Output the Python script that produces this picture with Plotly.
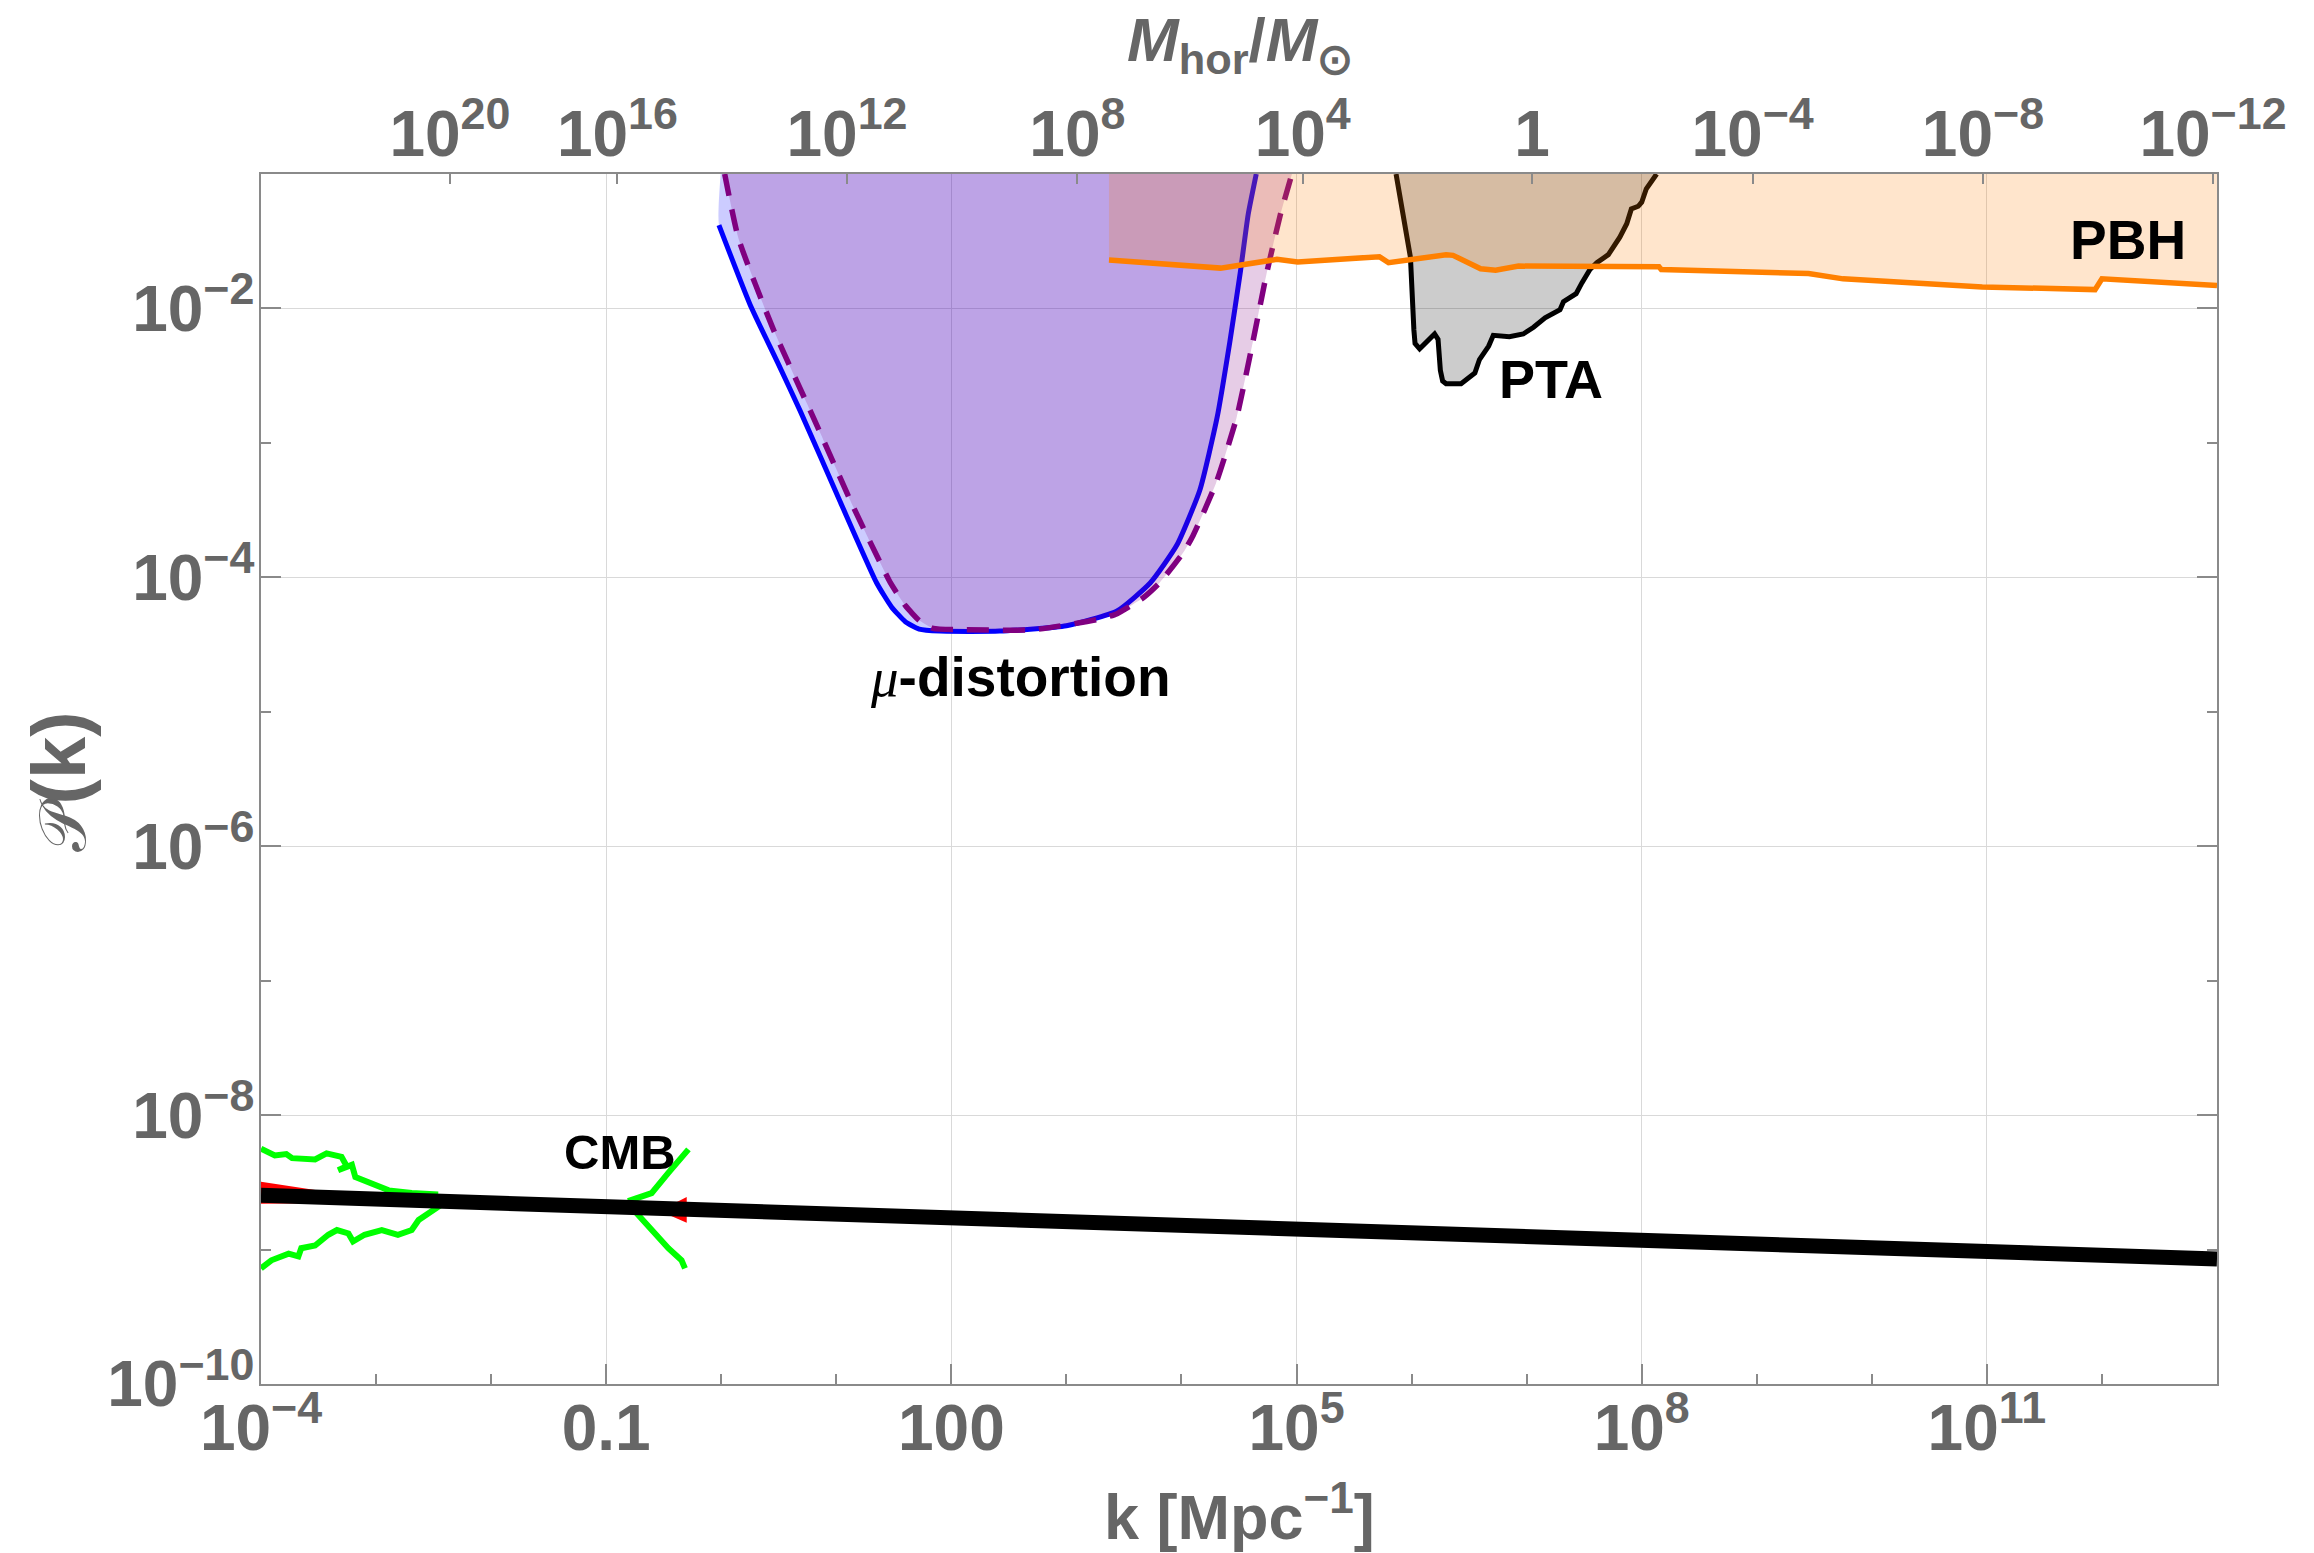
import numpy as np
import plotly.graph_objects as go

# ---------------- data (log10 values) ----------------
# nearly scale-invariant primordial spectrum (thick black line)
pk_log10_k = [-4.0, 13.0]
pk_log10_P = [-8.597, -9.07]

# mu-distortion bound, solid blue curve
mu_solid_log10_k = [-0.02, 0.25, 0.50, 0.685, 1.03, 1.35, 1.48, 1.60, 1.72, 1.90, 2.42, 3.00, 3.44,
                    3.73, 3.96, 4.16, 4.31, 4.42, 4.51, 4.58, 4.65]
mu_solid_log10_P = [-1.38, -1.97, -2.42, -2.76, -3.43, -4.04, -4.22, -4.33, -4.385, -4.40, -4.40, -4.36, -4.25,
                    -4.04, -3.76, -3.35, -2.81, -2.25, -1.74, -1.30, -1.00]

# mu-distortion bound, dashed purple curve
mu_dash_log10_k = [0.03, 0.15, 0.45, 0.80, 1.15, 1.47, 1.60, 1.72, 1.84, 2.13, 2.71, 3.29, 3.44, 3.67,
                   3.81, 4.02, 4.10, 4.30, 4.48, 4.62, 4.74, 4.86, 4.96]
mu_dash_log10_P = [-1.00, -1.48, -2.15, -2.81, -3.48, -4.04, -4.21, -4.32, -4.38, -4.39, -4.39, -4.31, -4.27, -4.15,
                   -4.04, -3.81, -3.69, -3.30, -2.81, -2.25, -1.74, -1.30, -1.00]

# PBH bound (orange)
pbh_log10_k = [3.37, 4.34, 4.83, 5.01, 5.72, 5.80, 6.30, 6.36, 6.60, 6.73, 6.93, 8.15, 8.17,
               9.45, 9.75, 10.10, 10.96, 11.94, 12.00, 13.00]
pbh_log10_P = [-1.64, -1.70, -1.635, -1.655, -1.615, -1.66, -1.60, -1.605, -1.705, -1.715, -1.685, -1.69, -1.71,
               -1.74, -1.78, -1.80, -1.84, -1.86, -1.78, -1.83]

# PTA bound (black outline, grey fill)
pta_log10_k = [5.865, 5.99, 6.02, 6.03, 6.07, 6.20, 6.23, 6.25, 6.27, 6.30, 6.43, 6.55, 6.59, 6.67,
               6.71, 6.85, 6.97, 7.06, 7.16, 7.29, 7.32, 7.43, 7.48, 7.55, 7.61, 7.71, 7.81, 7.87,
               7.91, 7.97, 8.00, 8.04, 8.13]
pta_log10_P = [-1.00, -1.62, -2.16, -2.26, -2.30, -2.19, -2.23, -2.46, -2.54, -2.56, -2.56, -2.48, -2.38, -2.28,
               -2.20, -2.21, -2.19, -2.14, -2.07, -2.01, -1.95, -1.89, -1.81, -1.71, -1.66, -1.60, -1.47, -1.37,
               -1.26, -1.24, -1.21, -1.11, -1.00]

# CMB: red constraint band
cmb_red_log10_k = [-4.0, -3.5, -3.0, -2.5, -2.0, -1.5, -1.0, -0.6, -0.45, -0.3]
cmb_red_log10_upper = [-8.495, -8.56, -8.60, -8.625, -8.645, -8.66, -8.675, -8.685, -8.675, -8.61]
cmb_red_log10_lower = [-8.66, -8.655, -8.66, -8.67, -8.68, -8.69, -8.705, -8.72, -8.745, -8.80]

# CMB: green reconstruction bounds
g_ul_log10_k = [-4.0, -3.88, -3.78, -3.73, -3.53, -3.43, -3.30, -3.255, -3.33, -3.21, -3.18, -3.04, -2.89, -2.69, -2.46]
g_ul_log10_P = [-8.25, -8.30, -8.29, -8.32, -8.33, -8.285, -8.31, -8.38, -8.41, -8.37, -8.46, -8.51, -8.56, -8.58, -8.59]
g_ll_log10_k = [-4.0, -3.91, -3.76, -3.675, -3.65, -3.53, -3.415, -3.34, -3.24, -3.20, -3.10, -2.95, -2.81, -2.69,
                -2.63, -2.52, -2.44]
g_ll_log10_P = [-9.14, -9.08, -9.03, -9.05, -8.99, -8.97, -8.89, -8.855, -8.88, -8.94, -8.89, -8.855, -8.89, -8.855,
                -8.78, -8.72, -8.67]
g_ur_log10_k = [-0.81, -0.605, -0.46, -0.285]
g_ur_log10_P = [-8.64, -8.58, -8.43, -8.255]
g_lr_log10_k = [-0.81, -0.635, -0.46, -0.345, -0.315]
g_lr_log10_P = [-8.66, -8.83, -8.99, -9.08, -9.14]

# axis ticks
x_tick_vals = [1e-4, 1e-1, 1e2, 1e5, 1e8, 1e11]
x_tick_text = ["10<sup>−4</sup>", "0.1", "100", "10<sup>5</sup>", "10<sup>8</sup>", "10<sup>11</sup>"]
x_minor_vals = [1e-3, 1e-2, 1e0, 1e1, 1e3, 1e4, 1e6, 1e7, 1e9, 1e10, 1e12]
y_tick_vals = [1e-10, 1e-8, 1e-6, 1e-4, 1e-2]
y_tick_text = ["10<sup>−10</sup>", "10<sup>−8</sup>", "10<sup>−6</sup>", "10<sup>−4</sup>", "10<sup>−2</sup>"]
y_minor_vals = [1e-9, 1e-7, 1e-5, 1e-3]

# top axis: horizon mass M_hor/M_sun, placed at corresponding k (log10 k)
mhor_tick_log10_k = [-2.358, -0.902, 1.093, 3.095, 5.054, 7.046, 8.964, 10.966, 12.965]
mhor_tick_text = ["10<sup>20</sup>", "10<sup>16</sup>", "10<sup>12</sup>", "10<sup>8</sup>", "10<sup>4</sup>", "1",
                  "10<sup>−4</sup>", "10<sup>−8</sup>", "10<sup>−12</sup>"]

# region labels: (text, log10 k, log10 P, size)
labels = [("<b>CMB</b>", -0.88, -8.275, 49),
          ("<b>PTA</b>", 7.21, -2.525, 54),
          ("<b>PBH</b>", 12.23, -1.49, 55),
          ("<span style='font-family:Liberation Serif'><i>μ</i></span><b>-distortion</b>", 2.60, -4.74, 55)]

LOG_TOP = -1.0  # top of plot in log10 P


def pw(a):
    return np.power(10.0, np.asarray(a, dtype=float))


FONT = "Liberation Sans, Arial, Helvetica, sans-serif"
GRAY = "#666666"
AX = "#8a8a8a"

fig = go.Figure()

# mu-distortion (solid) region
fig.add_trace(go.Scatter(
    x=pw([-0.005] + mu_solid_log10_k), y=pw([LOG_TOP] + mu_solid_log10_P),
    mode="lines", fill="toself", fillcolor="rgba(0,0,255,0.2)",
    line=dict(width=0, shape="spline", smoothing=0.5), hoverinfo="skip", showlegend=False))
fig.add_trace(go.Scatter(
    x=pw(mu_solid_log10_k), y=pw(mu_solid_log10_P), mode="lines",
    line=dict(color="#0000ff", width=5, shape="spline", smoothing=0.5),
    hoverinfo="skip", showlegend=False))

# mu-distortion (dashed) region
fig.add_trace(go.Scatter(
    x=pw(mu_dash_log10_k), y=pw(mu_dash_log10_P),
    mode="lines", fill="toself", fillcolor="rgba(128,0,128,0.2)",
    line=dict(width=0, shape="spline", smoothing=0.5), hoverinfo="skip", showlegend=False))
fig.add_trace(go.Scatter(
    x=pw(mu_dash_log10_k), y=pw(mu_dash_log10_P), mode="lines",
    line=dict(color="#800080", width=5.5, dash="22px,14px", shape="spline", smoothing=0.5),
    hoverinfo="skip", showlegend=False))

# PTA region
fig.add_trace(go.Scatter(
    x=pw(pta_log10_k), y=pw(pta_log10_P),
    mode="lines", fill="toself", fillcolor="rgba(0,0,0,0.2)",
    line=dict(width=0), hoverinfo="skip", showlegend=False))
fig.add_trace(go.Scatter(
    x=pw(pta_log10_k), y=pw(pta_log10_P), mode="lines",
    line=dict(color="#000000", width=5),
    hoverinfo="skip", showlegend=False))

# PBH region
fig.add_trace(go.Scatter(
    x=pw([pbh_log10_k[0]] + pbh_log10_k + [pbh_log10_k[-1]]),
    y=pw([LOG_TOP] + pbh_log10_P + [LOG_TOP]),
    mode="lines", fill="toself", fillcolor="rgba(255,127,0,0.2)",
    line=dict(width=0), hoverinfo="skip", showlegend=False))
fig.add_trace(go.Scatter(
    x=pw(pbh_log10_k), y=pw(pbh_log10_P), mode="lines",
    line=dict(color="#ff8000", width=5.5),
    hoverinfo="skip", showlegend=False))

# CMB red band
fig.add_trace(go.Scatter(
    x=pw(cmb_red_log10_k + cmb_red_log10_k[::-1]),
    y=pw(cmb_red_log10_upper + cmb_red_log10_lower[::-1]),
    mode="lines", fill="toself", fillcolor="#ff0000",
    line=dict(width=0), hoverinfo="skip", showlegend=False))

# CMB green curves
for gk, gp in [(g_ul_log10_k, g_ul_log10_P), (g_ll_log10_k, g_ll_log10_P),
               (g_ur_log10_k, g_ur_log10_P), (g_lr_log10_k, g_lr_log10_P)]:
    fig.add_trace(go.Scatter(
        x=pw(gk), y=pw(gp), mode="lines",
        line=dict(color="#00ff00", width=6),
        hoverinfo="skip", showlegend=False))

# primordial spectrum
fig.add_trace(go.Scatter(
    x=pw(pk_log10_k), y=pw(pk_log10_P), mode="lines",
    line=dict(color="#000000", width=15),
    hoverinfo="skip", showlegend=False))

# invisible trace to anchor the top axis
fig.add_trace(go.Scatter(
    x=[1e-4], y=[1e-5], xaxis="x2", yaxis="y", mode="markers",
    marker=dict(opacity=0), hoverinfo="skip", showlegend=False))

tickfont = dict(family=FONT, size=64, color=GRAY, weight="bold")

# the page body has an 8px margin, so the figure is 8px smaller than the window
fig.update_layout(
    width=2306, height=1545,
    margin=dict(l=253, r=97, t=166, b=169),
    paper_bgcolor="white", plot_bgcolor="white",
    showlegend=False,
    xaxis=dict(
        type="log", range=[-4, 13], showline=True, linecolor=AX, linewidth=1.5,
        mirror=True, ticks="inside", ticklen=20, tickwidth=1.5, tickcolor=AX,
        tickmode="array", tickvals=x_tick_vals, ticktext=x_tick_text,
        tickfont=tickfont, ticklabelstandoff=-13,
        showgrid=True, gridcolor="#d9d9d9", gridwidth=1, zeroline=False,
        minor=dict(tickmode="array", tickvals=x_minor_vals, ticks="inside", ticklen=10,
                   tickwidth=1.5, tickcolor=AX, showgrid=False),
    ),
    xaxis2=dict(
        type="log", range=[-4, 13], overlaying="x", side="top", anchor="y",
        showline=False, ticks="inside", ticklen=10, tickwidth=1.5, tickcolor=AX,
        tickmode="array", tickvals=list(pw(mhor_tick_log10_k)), ticktext=mhor_tick_text,
        tickfont=tickfont, ticklabelstandoff=4, showgrid=False, zeroline=False,
    ),
    yaxis=dict(
        type="log", range=[-10, -1], showline=True, linecolor=AX, linewidth=1.5,
        mirror="ticks", ticks="inside", ticklen=20, tickwidth=1.5, tickcolor=AX,
        tickmode="array", tickvals=y_tick_vals, ticktext=y_tick_text,
        tickfont=tickfont, ticklabelstandoff=-8,
        showgrid=True, gridcolor="#d9d9d9", gridwidth=1, zeroline=False,
        minor=dict(tickmode="array", tickvals=y_minor_vals, ticks="inside", ticklen=10,
                   tickwidth=1.5, tickcolor=AX, showgrid=False),
    ),
)

annotations = []
for text, lk, lp, size in labels:
    annotations.append(dict(
        x=lk, y=lp, xref="x", yref="y", text=text, showarrow=False,
        xanchor="center", yanchor="middle",
        font=dict(family=FONT, size=size, color="#000000")))

# axis titles
annotations.append(dict(
    x=0.5, y=-0.106, xref="paper", yref="paper", showarrow=False,
    text="<b>k [Mpc<sup>−1</sup>]</b>", xanchor="center", yanchor="middle",
    font=dict(family=FONT, size=63, color=GRAY)))
annotations.append(dict(
    x=-0.1038, y=0.498, xref="paper", yref="paper", showarrow=False, textangle=-90,
    text="<span style='font-size:66px'>𝒫</span><b>(k)</b>", xanchor="center", yanchor="middle",
    font=dict(family=FONT, size=76, color=GRAY)))
annotations.append(dict(
    x=0.5005, y=1.1075, xref="paper", yref="paper", showarrow=False,
    text="<b><i>M</i><sub>hor</sub>/<i>M</i><sub>⊙</sub></b>", xanchor="center", yanchor="middle",
    font=dict(family=FONT, size=62, color=GRAY)))

fig.update_layout(annotations=annotations)

fig.write_html("out.html")
